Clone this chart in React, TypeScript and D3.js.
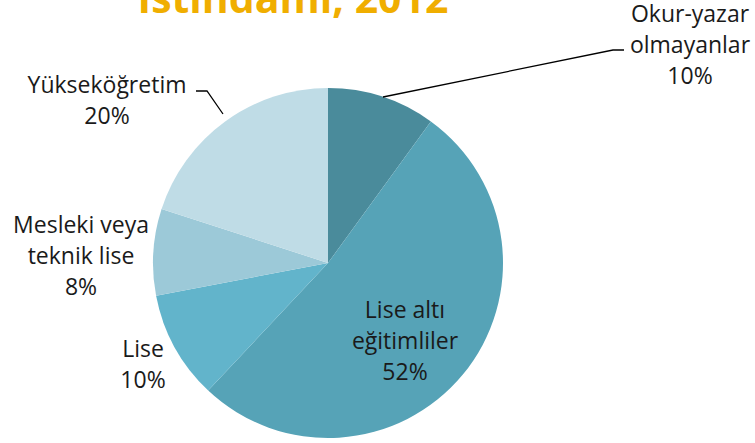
import React from "react";
import * as d3 from "d3";

const categories = [
  "Okur-yazar olmayanlar",
  "Lise altı eğitimliler",
  "Lise",
  "Mesleki veya teknik lise",
  "Yükseköğretim",
];
const values = [10, 52, 10, 8, 20];
const colors = ["#4A8B9B", "#56A3B7", "#62B4CB", "#9CC9D8", "#BFDCE6"];
const labelLines = [
  ["Okur-yazar", "olmayanlar", "10%"],
  ["Lise altı", "eğitimliler", "52%"],
  ["Lise", "10%"],
  ["Mesleki veya", "teknik lise", "8%"],
  ["Yükseköğretim", "20%"],
];
const title = "İstihdamı, 2012";

const W = 755;
const H = 443;
const cx = 328;
const cy = 263;
const R = 175;

// label anchor (center x, first baseline y) relative to pie center
const labelPos: [number, number][] = [
  [362, -241],
  [77, 55],
  [-185, 94],
  [-247, -30],
  [-221, -170],
];

export default function App() {
  const pie = d3.pie<number>().sort(null).value((d) => d)(values);
  const arc = d3.arc<d3.PieArcDatum<number>>().innerRadius(0).outerRadius(R);
  const font = "'Open Sans', sans-serif";
  const lh = 31;
  return (
    <svg
      width={W}
      height={H}
      style={{ position: "absolute", left: 0, top: 0, background: "#fff" }}
    >
      <text
        x={293}
        y={13}
        textAnchor="middle"
        fontFamily={font}
        fontWeight={700}
        fontSize={41}
        fill="#F0AE00"
      >
        {title}
      </text>
      <g transform={`translate(${cx},${cy})`}>
        {pie.map((p, i) => (
          <path key={i} d={arc(p) || ""} fill={colors[i]} />
        ))}
        {/* leader lines */}
        <polyline
          points={`${383 - cx},${97 - cy} ${613 - cx},${50 - cy} ${624 - cx},${50 - cy}`}
          fill="none"
          stroke="#000"
          strokeWidth={1.3}
        />
        <polyline
          points={`${196 - cx},${91 - cy} ${207 - cx},${91 - cy} ${223 - cx},${114 - cy}`}
          fill="none"
          stroke="#000"
          strokeWidth={1.3}
        />
        {labelLines.map((lines, i) => (
          <text
            key={i}
            textAnchor="middle"
            fontFamily={font}
            fontSize={23}
            fill="#1a1a1a"
          >
            {lines.map((l, j) => (
              <tspan key={j} x={labelPos[i][0]} y={labelPos[i][1] + j * lh}>
                {l}
              </tspan>
            ))}
          </text>
        ))}
      </g>
    </svg>
  );
}
